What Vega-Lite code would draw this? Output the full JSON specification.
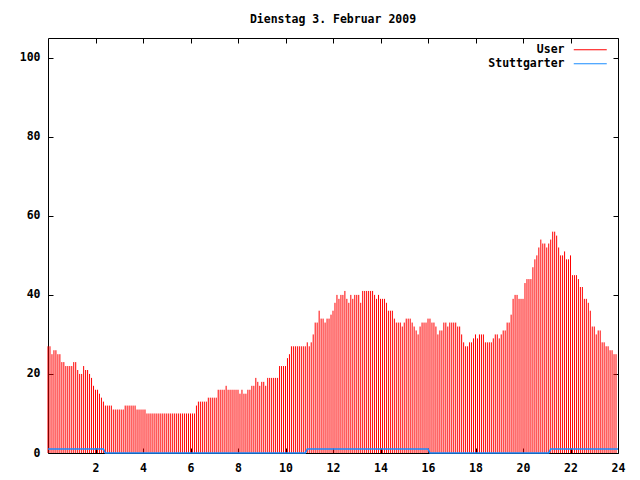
{
  "$schema": "https://vega.github.io/schema/vega-lite/v6.json",
  "width": 570,
  "height": 415,
  "autosize": {"type": "none"},
  "padding": {"left": 48, "top": 38, "right": 22, "bottom": 27},
  "background": "white",
  "title": {"text": "Dienstag 3. Februar 2009", "font": "DejaVu Sans Mono", "fontSize": 11.5, "fontWeight": "bold", "color": "black", "anchor": "middle", "offset": 12},
  "config": {
    "view": {"stroke": "black", "strokeWidth": 1},
    "axis": {"domain": false, "grid": false, "tickColor": "black", "tickSize": -5, "tickWidth": 1, "labelFont": "DejaVu Sans Mono", "labelFontWeight": "bold", "labelFontSize": 11.5, "labelColor": "black", "labelFlush": false, "labelOverlap": false, "title": null},
    "legend": {"labelFont": "DejaVu Sans Mono", "labelFontWeight": "bold", "labelFontSize": 11.5, "labelColor": "black"}
  },
  "datasets": {
    "user": [
      {"m":0,"v":27},{"m":5,"v":27},{"m":10,"v":25},{"m":15,"v":26},{"m":20,"v":26},{"m":25,"v":25},{"m":30,"v":25},{"m":35,"v":23},{"m":40,"v":23},{"m":45,"v":22},
      {"m":50,"v":22},{"m":55,"v":22},{"m":60,"v":22},{"m":65,"v":23},{"m":70,"v":23},{"m":75,"v":21},{"m":80,"v":20},{"m":85,"v":20},{"m":90,"v":22},{"m":95,"v":21},
      {"m":100,"v":21},{"m":105,"v":20},{"m":110,"v":19},{"m":115,"v":17},{"m":120,"v":16},{"m":125,"v":16},{"m":130,"v":15},{"m":135,"v":14},{"m":140,"v":13},{"m":145,"v":12},
      {"m":150,"v":12},{"m":155,"v":12},{"m":160,"v":12},{"m":165,"v":11},{"m":170,"v":11},{"m":175,"v":11},{"m":180,"v":11},{"m":185,"v":11},{"m":190,"v":11},{"m":195,"v":12},
      {"m":200,"v":12},{"m":205,"v":12},{"m":210,"v":12},{"m":215,"v":12},{"m":220,"v":12},{"m":225,"v":11},{"m":230,"v":11},{"m":235,"v":11},{"m":240,"v":11},{"m":245,"v":11},
      {"m":250,"v":10},{"m":255,"v":10},{"m":260,"v":10},{"m":265,"v":10},{"m":270,"v":10},{"m":275,"v":10},{"m":280,"v":10},{"m":285,"v":10},{"m":290,"v":10},{"m":295,"v":10},
      {"m":300,"v":10},{"m":305,"v":10},{"m":310,"v":10},{"m":315,"v":10},{"m":320,"v":10},{"m":325,"v":10},{"m":330,"v":10},{"m":335,"v":10},{"m":340,"v":10},{"m":345,"v":10},
      {"m":350,"v":10},{"m":355,"v":10},{"m":360,"v":10},{"m":365,"v":10},{"m":370,"v":10},{"m":375,"v":12},{"m":380,"v":13},{"m":385,"v":13},{"m":390,"v":13},{"m":395,"v":13},
      {"m":400,"v":13},{"m":405,"v":14},{"m":410,"v":14},{"m":415,"v":14},{"m":420,"v":14},{"m":425,"v":14},{"m":430,"v":16},{"m":435,"v":16},{"m":440,"v":16},{"m":445,"v":16},
      {"m":450,"v":17},{"m":455,"v":16},{"m":460,"v":16},{"m":465,"v":16},{"m":470,"v":16},{"m":475,"v":16},{"m":480,"v":16},{"m":485,"v":15},{"m":490,"v":16},{"m":495,"v":15},
      {"m":500,"v":15},{"m":505,"v":16},{"m":510,"v":16},{"m":515,"v":17},{"m":520,"v":17},{"m":525,"v":19},{"m":530,"v":18},{"m":535,"v":17},{"m":540,"v":18},{"m":545,"v":18},
      {"m":550,"v":17},{"m":555,"v":19},{"m":560,"v":19},{"m":565,"v":19},{"m":570,"v":19},{"m":575,"v":19},{"m":580,"v":19},{"m":585,"v":22},{"m":590,"v":22},{"m":595,"v":22},
      {"m":600,"v":22},{"m":605,"v":24},{"m":610,"v":25},{"m":615,"v":27},{"m":620,"v":27},{"m":625,"v":27},{"m":630,"v":27},{"m":635,"v":27},{"m":640,"v":27},{"m":645,"v":27},
      {"m":650,"v":27},{"m":655,"v":28},{"m":660,"v":27},{"m":665,"v":28},{"m":670,"v":30},{"m":675,"v":33},{"m":680,"v":33},{"m":685,"v":36},{"m":690,"v":34},{"m":695,"v":34},
      {"m":700,"v":33},{"m":705,"v":34},{"m":710,"v":34},{"m":715,"v":35},{"m":720,"v":36},{"m":725,"v":38},{"m":730,"v":40},{"m":735,"v":39},{"m":740,"v":40},{"m":745,"v":40},
      {"m":750,"v":41},{"m":755,"v":39},{"m":760,"v":38},{"m":765,"v":40},{"m":770,"v":39},{"m":775,"v":40},{"m":780,"v":40},{"m":785,"v":40},{"m":790,"v":38},{"m":795,"v":41},
      {"m":800,"v":41},{"m":805,"v":41},{"m":810,"v":41},{"m":815,"v":41},{"m":820,"v":41},{"m":825,"v":40},{"m":830,"v":39},{"m":835,"v":40},{"m":840,"v":39},{"m":845,"v":39},
      {"m":850,"v":39},{"m":855,"v":38},{"m":860,"v":36},{"m":865,"v":36},{"m":870,"v":36},{"m":875,"v":34},{"m":880,"v":33},{"m":885,"v":33},{"m":890,"v":33},{"m":895,"v":32},
      {"m":900,"v":33},{"m":905,"v":34},{"m":910,"v":34},{"m":915,"v":34},{"m":920,"v":33},{"m":925,"v":32},{"m":930,"v":31},{"m":935,"v":30},{"m":940,"v":32},{"m":945,"v":33},
      {"m":950,"v":33},{"m":955,"v":33},{"m":960,"v":34},{"m":965,"v":34},{"m":970,"v":33},{"m":975,"v":33},{"m":980,"v":32},{"m":985,"v":30},{"m":990,"v":31},{"m":995,"v":31},
      {"m":1000,"v":33},{"m":1005,"v":33},{"m":1010,"v":32},{"m":1015,"v":33},{"m":1020,"v":33},{"m":1025,"v":33},{"m":1030,"v":33},{"m":1035,"v":32},{"m":1040,"v":32},{"m":1045,"v":30},
      {"m":1050,"v":28},{"m":1055,"v":27},{"m":1060,"v":27},{"m":1065,"v":28},{"m":1070,"v":28},{"m":1075,"v":29},{"m":1080,"v":30},{"m":1085,"v":29},{"m":1090,"v":30},{"m":1095,"v":30},
      {"m":1100,"v":30},{"m":1105,"v":28},{"m":1110,"v":28},{"m":1115,"v":28},{"m":1120,"v":28},{"m":1125,"v":29},{"m":1130,"v":30},{"m":1135,"v":30},{"m":1140,"v":29},{"m":1145,"v":30},
      {"m":1150,"v":31},{"m":1155,"v":31},{"m":1160,"v":33},{"m":1165,"v":33},{"m":1170,"v":35},{"m":1175,"v":39},{"m":1180,"v":40},{"m":1185,"v":40},{"m":1190,"v":39},{"m":1195,"v":39},
      {"m":1200,"v":39},{"m":1205,"v":43},{"m":1210,"v":44},{"m":1215,"v":44},{"m":1220,"v":44},{"m":1225,"v":47},{"m":1230,"v":49},{"m":1235,"v":50},{"m":1240,"v":52},{"m":1245,"v":54},
      {"m":1250,"v":53},{"m":1255,"v":53},{"m":1260,"v":52},{"m":1265,"v":53},{"m":1270,"v":54},{"m":1275,"v":56},{"m":1280,"v":56},{"m":1285,"v":55},{"m":1290,"v":52},{"m":1295,"v":50},
      {"m":1300,"v":50},{"m":1305,"v":51},{"m":1310,"v":49},{"m":1315,"v":49},{"m":1320,"v":50},{"m":1325,"v":45},{"m":1330,"v":45},{"m":1335,"v":45},{"m":1340,"v":44},{"m":1345,"v":42},
      {"m":1350,"v":42},{"m":1355,"v":39},{"m":1360,"v":39},{"m":1365,"v":38},{"m":1370,"v":36},{"m":1375,"v":32},{"m":1380,"v":32},{"m":1385,"v":30},{"m":1390,"v":31},{"m":1395,"v":31},
      {"m":1400,"v":28},{"m":1405,"v":28},{"m":1410,"v":27},{"m":1415,"v":27},{"m":1420,"v":26},{"m":1425,"v":26},{"m":1430,"v":25},{"m":1435,"v":25}
    ],
    "stutt": [
      {"m":0,"s":1},{"m":140,"s":1},{"m":145,"s":0},{"m":650,"s":0},{"m":655,"s":1},{"m":960,"s":1},{"m":965,"s":0},{"m":1265,"s":0},{"m":1270,"s":1},{"m":1440,"s":1}
    ]
  },
  "layer": [
    {
      "data": {"name": "user"},
      "mark": {"type": "rule", "strokeWidth": 1},
      "encoding": {
        "x": {"field": "m", "type": "quantitative", "scale": {"domain": [0, 1440], "nice": false, "zero": false},
              "axis": {"orient": "bottom", "values": [120,240,360,480,600,720,840,960,1080,1200,1320,1440], "labelExpr": "datum.value / 60", "labelPadding": 14}},
        "y": {"field": "v", "type": "quantitative", "scale": {"domain": [0, 105], "nice": false},
              "axis": {"orient": "left", "values": [0,20,40,60,80,100], "labelPadding": 13}},
        "y2": {"datum": 0},
        "color": {"datum": "User", "type": "nominal",
                  "scale": {"domain": ["User", "Stuttgarter"], "range": ["#ff0000", "#1a8cff"]},
                  "legend": {"title": null, "orient": "none", "legendX": 536.5, "legendY": 6, "padding": 0, "rowPadding": 1, "symbolType": "M-3.3,0H3.3", "symbolSize": 100, "symbolStrokeWidth": 1, "labelAlign": "right", "labelOffset": -31.5}}
      }
    },
    {
      "data": {"name": "stutt"},
      "mark": {"type": "line", "strokeWidth": 1.5},
      "encoding": {
        "x": {"field": "m", "type": "quantitative", "axis": {"orient": "top", "labels": false, "values": [120,240,360,480,600,720,840,960,1080,1200,1320,1440]}},
        "y": {"field": "s", "type": "quantitative", "axis": {"orient": "right", "labels": false, "values": [0,20,40,60,80,100]}},
        "color": {"datum": "Stuttgarter", "type": "nominal"}
      }
    }
  ],
  "resolve": {"axis": {"x": "independent", "y": "independent"}}
}
